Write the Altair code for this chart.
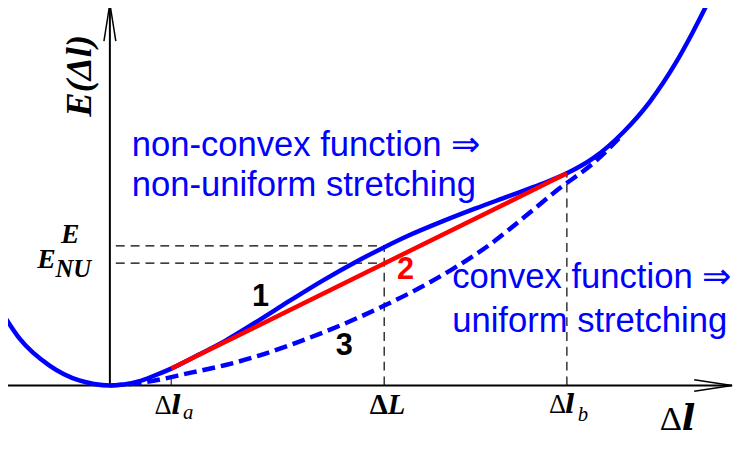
import altair as alt
import pandas as pd

# ---- data (x: Δl units, y: E units; origin at the axis crossing) ----
solid_x = [-1.11, -0.91, -0.61, -0.31, -0.16, 0.0, 0.14, 0.29, 0.44, 0.62, 0.89, 1.16,
           1.49, 1.82, 2.16, 2.49, 2.77, 3.02, 3.36, 3.69, 4.02, 4.36, 4.62, 4.89,
           5.19, 5.46, 5.72, 5.89, 6.06]
solid_y = [0.77, 0.47, 0.20, 0.05, 0.015, 0.0, 0.01, 0.04, 0.095, 0.17, 0.307, 0.448,
           0.648, 0.857, 1.065, 1.251, 1.395, 1.515, 1.658, 1.787, 1.909, 2.035, 2.144, 2.30,
           2.56, 2.87, 3.26, 3.566, 3.90]

dashed_x = [0.0, 0.29, 0.82, 1.16, 1.49, 1.82, 2.16, 2.49, 2.77, 3.12, 3.46, 3.86,
            4.19, 4.52, 4.89, 5.17]
dashed_y = [0.0, 0.023, 0.129, 0.204, 0.296, 0.408, 0.537, 0.676, 0.805, 0.98, 1.174, 1.438,
            1.702, 1.973, 2.25, 2.52]

chord_x = [0.62, 4.62]
chord_y = [0.17, 2.144]

dl_a, dL, dl_b = 0.62, 2.773, 4.62
E_val, E_NU_val = 1.41, 1.237
E_start = 0.06

X_DOMAIN = [-1.03, 6.36]
Y_DOMAIN = [-0.89, 3.79]
W, H = 739, 468

BLUE = "#0000ff"
RED = "#ff0000"

xs = alt.Scale(domain=X_DOMAIN, nice=False, zero=False)
ys = alt.Scale(domain=Y_DOMAIN, nice=False, zero=False)


def X(f="x"):
    return alt.X(f"{f}:Q", scale=xs, axis=None)


def Y(f="y"):
    return alt.Y(f"{f}:Q", scale=ys, axis=None)


def segs(rows):
    return pd.DataFrame(rows, columns=["x", "y", "x2", "y2"])


def rules(df, **kw):
    return alt.Chart(df).mark_rule(**kw).encode(
        x=X(), y=Y(), x2="x2:Q", y2="y2:Q")


def text(rows, **kw):
    df = pd.DataFrame(rows, columns=["x", "y", "t"])
    return alt.Chart(df).mark_text(**kw).encode(x=X(), y=Y(), text="t:N")


# curves
solid_df = pd.DataFrame({"x": solid_x, "y": solid_y, "i": range(len(solid_x))})
dashed_df = pd.DataFrame({"x": dashed_x, "y": dashed_y, "i": range(len(dashed_x))})
chord_df = pd.DataFrame({"x": chord_x, "y": chord_y, "i": [0, 1]})

solid = alt.Chart(solid_df).mark_line(color=BLUE, strokeWidth=4.5, interpolate="monotone").encode(
    x=X(), y=Y(), order="i:Q")
dashed = alt.Chart(dashed_df).mark_line(color=BLUE, strokeWidth=4.5, strokeDash=[13, 6],
                                        interpolate="monotone").encode(x=X(), y=Y(), order="i:Q")
chord = alt.Chart(chord_df).mark_line(color=RED, strokeWidth=4.5).encode(x=X(), y=Y(), order="i:Q")

# axes with open arrow heads
axes = rules(segs([
    [-1.2, 0.0, 6.29, 0.0],
    [0.0, 0.0, 0.0, 3.86],
]), color="black", strokeWidth=2)
heads = rules(segs([
    [5.907, 0.058, 6.29, 0.0],
    [5.907, -0.058, 6.29, 0.0],
    [-0.06, 3.48, 0.0, 3.86],
    [0.06, 3.48, 0.0, 3.86],
]), color="black", strokeWidth=1.5)

# dashed guides
guides = rules(segs([
    [E_start, E_val, dL, E_val],
    [E_start, E_NU_val, dL, E_NU_val],
    [dL, 0.0, dL, E_val],
    [dl_b, 0.0, dl_b, chord_y[1]],
]), color="black", strokeWidth=1.2, strokeDash=[9, 6])
tick_a = rules(segs([[dl_a, 0.0, dl_a, 0.09]]), color="black", strokeWidth=1)

SANS = "Liberation Sans"
SERIF = "Liberation Serif"
MATH = "DejaVu Serif"

notes = text([
    [0.22, 2.32, "non-convex function ⇒"],
    [0.22, 1.92, "non-uniform stretching"],
    [3.46, 0.98, "convex function ⇒"],
    [3.46, 0.54, "uniform stretching"],
], font=SANS, fontSize=35, color=BLUE, align="left", baseline="alphabetic")

nums_black = text([
    [1.523, 0.80, "1"],
    [2.37, 0.305, "3"],
], font=SANS, fontSize=31, fontWeight="bold", color="black", align="center", baseline="alphabetic")
num_red = text([[2.99, 1.08, "2"]], font=SANS, fontSize=31, fontWeight="bold", color=RED,
               align="center", baseline="alphabetic")

# y-axis title (rotated)
ytitle = text([[-0.30, 3.13, "E(Δl)"]], font=SERIF, fontSize=37, fontWeight="bold",
              fontStyle="italic", angle=270, align="center", baseline="middle", color="black")

# E, E_NU labels
e_labels = text([
    [-0.40, 1.44, "E"],
    [-0.64, 1.185, "E"],
], font=SERIF, fontSize=28, fontWeight="bold", fontStyle="italic", align="center",
    baseline="alphabetic", color="black")
nu_label = text([[-0.55, 1.10, "NU"]], font=SERIF, fontSize=25, fontWeight="bold",
                fontStyle="italic", align="left", baseline="alphabetic", color="black")

# x tick labels
deltas = text([
    [0.45, -0.29, "Δ"],
    [4.44, -0.28, "Δ"],
], font=SERIF, fontSize=27, align="left", baseline="alphabetic", color="black")
ells = text([
    [0.62, -0.29, "l"],
    [4.60, -0.28, "l"],
], font=MATH, fontSize=26, fontWeight="bold", fontStyle="italic", align="left",
    baseline="alphabetic", color="black")
subs = text([
    [0.74, -0.34, "a"],
    [4.73, -0.36, "b"],
], font=SERIF, fontSize=21, fontStyle="italic", align="left", baseline="alphabetic", color="black")
dL_delta = text([[2.81, -0.29, "Δ"]], font=SERIF, fontSize=29, fontWeight="bold", align="right",
                baseline="alphabetic", color="black")
dL_L = text([[2.81, -0.29, "L"]], font=SERIF, fontSize=29, fontWeight="bold", fontStyle="italic",
            align="left", baseline="alphabetic", color="black")
big_delta = text([[5.56, -0.45, "Δ"]], font=SERIF, fontSize=35, align="left",
                 baseline="alphabetic", color="black")
big_l = text([[5.78, -0.45, "l"]], font=MATH, fontSize=36, fontWeight="bold", fontStyle="italic",
             align="left", baseline="alphabetic", color="black")

chart = alt.layer(
    guides, tick_a, axes, heads, dashed, solid, chord,
    notes, nums_black, num_red, ytitle, e_labels, nu_label,
    deltas, ells, subs, dL_delta, dL_L, big_delta, big_l,
).properties(
    width=W, height=H, padding=0,
    autosize=alt.AutoSizeParams(type="none"),
).configure_view(stroke=None)

chart.save("out.html", embed_options={"renderer": "svg", "actions": False})
